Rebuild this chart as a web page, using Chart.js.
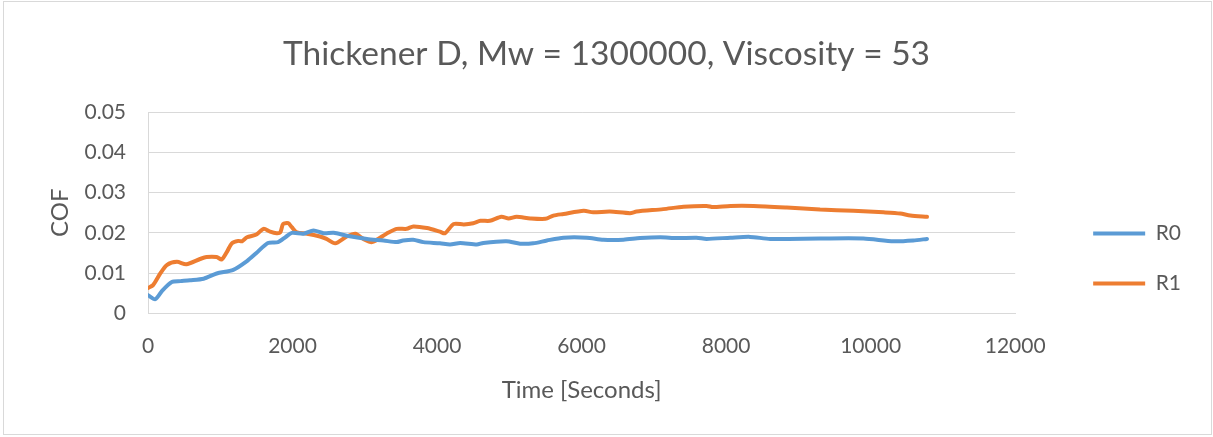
<!DOCTYPE html>
<html>
<head>
<meta charset="utf-8">
<script src="https://cdn.jsdelivr.net/npm/chart.js@4.4.1/dist/chart.umd.min.js"></script>
<style>
  html, body { margin: 0; padding: 0; background: #ffffff; }
  #wrap { position: relative; width: 1213px; height: 437px; }
</style>
</head>
<body>
<div id="wrap"><canvas id="cof"></canvas></div>
<script>
// Coefficient of friction over time for two runs
const chartTitle = 'Thickener D, Mw = 1300000, Viscosity = 53';
const xAxisTitle = 'Time [Seconds]';
const yAxisTitle = 'COF';
const seriesNames = ['R0', 'R1'];

const r0Time = [0, 100, 200, 330, 450, 580, 770, 950, 1180, 1370, 1500, 1660, 1800, 1900, 1990, 2150, 2290, 2430, 2570, 2750,
  3030, 3260, 3440, 3530, 3670, 3810, 4040, 4180, 4320, 4550, 4640, 4960, 5150, 5330, 5520, 5750, 6070, 6300, 6580, 6810,
  7090, 7320, 7590, 7730, 8060, 8330, 8610, 9300, 9900, 10320, 10590, 10780];
const r0Cof = [0.0045, 0.0035, 0.0057, 0.0078, 0.0080, 0.0082, 0.0086, 0.0099, 0.0108, 0.0130, 0.0150, 0.0175, 0.0177, 0.0189, 0.0200, 0.0198, 0.0206, 0.0199, 0.0200, 0.0193,
  0.0185, 0.0181, 0.0177, 0.0181, 0.0183, 0.0177, 0.0174, 0.0171, 0.0175, 0.0171, 0.0175, 0.0179, 0.0173, 0.0174, 0.0181, 0.0188, 0.0188, 0.0183, 0.0183, 0.0187,
  0.0189, 0.0187, 0.0188, 0.0185, 0.0188, 0.0190, 0.0185, 0.0186, 0.0186, 0.0179, 0.0181, 0.0185];

const r1Time = [0, 70, 170, 260, 400, 530, 720, 810, 950, 1020, 1090, 1160, 1250, 1300, 1370, 1500, 1600, 1690, 1780, 1830,
  1870, 1940, 1990, 2060, 2200, 2380, 2470, 2590, 2750, 2870, 2980, 3100, 3300, 3440, 3580, 3670, 3860, 4040, 4110, 4230,
  4370, 4500, 4600, 4730, 4890, 4990, 5100, 5290, 5500, 5610, 5750, 6030, 6160, 6390, 6670, 6760, 7130, 7410, 7730, 7820,
  8060, 8380, 8840, 9300, 9760, 10180, 10410, 10550, 10780];
const r1Cof = [0.0063, 0.0070, 0.0099, 0.0120, 0.0128, 0.0122, 0.0135, 0.0140, 0.0140, 0.0134, 0.0152, 0.0174, 0.0180, 0.0179, 0.0189, 0.0196, 0.0210, 0.0203, 0.0199, 0.0201,
  0.0222, 0.0224, 0.0214, 0.0201, 0.0198, 0.0191, 0.0185, 0.0174, 0.0191, 0.0198, 0.0185, 0.0177, 0.0198, 0.0210, 0.0210, 0.0216, 0.0212, 0.0203, 0.0199, 0.0222,
  0.0221, 0.0224, 0.0230, 0.0230, 0.0240, 0.0236, 0.0240, 0.0236, 0.0235, 0.0243, 0.0247, 0.0255, 0.0251, 0.0253, 0.0249, 0.0253, 0.0259, 0.0265, 0.0267, 0.0264,
  0.0267, 0.0267, 0.0263, 0.0258, 0.0255, 0.0251, 0.0248, 0.0243, 0.0240];

const xTickLabels = ['0', '2000', '4000', '6000', '8000', '10000', '12000'];
const yTickLabels = ['0', '0.01', '0.02', '0.03', '0.04', '0.05'];

const seriesColors = ['#5B9BD5', '#ED7D31'];
const textColor = '#595959';
const gridColor = '#d9d9d9';
const FONT = 'Lato';

function toPoints(times, values) {
  return times.map((t, i) => ({ x: t, y: values[i] }));
}

// thin frame around the whole chart
const chartFrame = {
  id: 'chartFrame',
  afterDraw(chart) {
    const ctx = chart.ctx;
    ctx.save();
    ctx.strokeStyle = gridColor;
    ctx.lineWidth = 1;
    ctx.strokeRect(3.5, 1.5, 1208, 433);
    ctx.restore();
  }
};

// move the legend block down beside the lower half of the plot, a little in from the edge
const legendPlacement = {
  id: 'legendPlacement',
  afterLayout(chart) {
    const lg = chart.legend;
    if (!lg) return;
    lg.top += 56;
    lg.bottom += 56;
    lg.left -= 22;
    lg.right -= 22;
  }
};

function draw() {
  const series = [[r0Time, r0Cof], [r1Time, r1Cof]];
  new Chart(document.getElementById('cof'), {
    type: 'line',
    data: {
      datasets: series.map(([t, v], i) => ({
        label: seriesNames[i],
        data: toPoints(t, v),
        borderColor: seriesColors[i],
        backgroundColor: seriesColors[i],
        borderWidth: 4,
        borderCapStyle: 'round',
        borderJoinStyle: 'round',
        pointRadius: 0,
        pointHoverRadius: 0,
        tension: 0.25,
        fill: false
      }))
    },
    options: {
      responsive: true,
      maintainAspectRatio: false,
      animation: false,
      layout: { padding: { left: 0, top: 0, right: 0, bottom: 32 } },
      plugins: {
        title: {
          display: true,
          text: chartTitle,
          color: textColor,
          font: { family: FONT, size: 33.5, weight: 'normal' },
          padding: { top: 34, bottom: 38 }
        },
        legend: {
          position: 'right',
          align: 'center',
          labels: {
            color: textColor,
            font: { family: FONT, size: 21 },
            usePointStyle: true,
            pointStyle: 'line',
            pointStyleWidth: 52,
            padding: 29
          }
        },
        tooltip: { enabled: false }
      },
      scales: {
        x: {
          type: 'linear',
          min: 0,
          max: 12000,
          grid: { display: false, drawTicks: false },
          border: { display: true, color: gridColor, width: 1 },
          ticks: {
            stepSize: 2000,
            color: textColor,
            font: { family: FONT, size: 21 },
            padding: 20,
            maxRotation: 0,
            callback: (value, index) => xTickLabels[index]
          },
          title: {
            display: true,
            text: xAxisTitle,
            color: textColor,
            font: { family: FONT, size: 24 },
            padding: { top: 8, bottom: 0 }
          },
          afterFit(scale) { scale.height = 91.7; }
        },
        y: {
          min: 0,
          max: 0.05,
          grid: { color: gridColor, lineWidth: 1, drawTicks: false },
          border: { display: true, color: gridColor, width: 1 },
          ticks: {
            stepSize: 0.01,
            color: textColor,
            font: { family: FONT, size: 21 },
            padding: 22,
            callback: (value, index) => yTickLabels[index]
          },
          title: {
            display: true,
            text: yAxisTitle,
            color: textColor,
            font: { family: FONT, size: 24 },
            padding: { top: 46, bottom: 0 }
          },
          afterFit(scale) { scale.width = 148; }
        },
        // empty band between the plot and the legend
        gap: {
          type: 'linear',
          position: 'right',
          display: true,
          grid: { display: false, drawTicks: false },
          border: { display: false },
          ticks: { display: false },
          afterFit(scale) { scale.width = 71; }
        }
      }
    },
    plugins: [chartFrame, legendPlacement]
  });
}

Promise.all([
  document.fonts.load('21px Lato'),
  document.fonts.load('24px Lato'),
  document.fonts.load('33.5px Lato')
]).then(draw, draw);
</script>
</body>
</html>
